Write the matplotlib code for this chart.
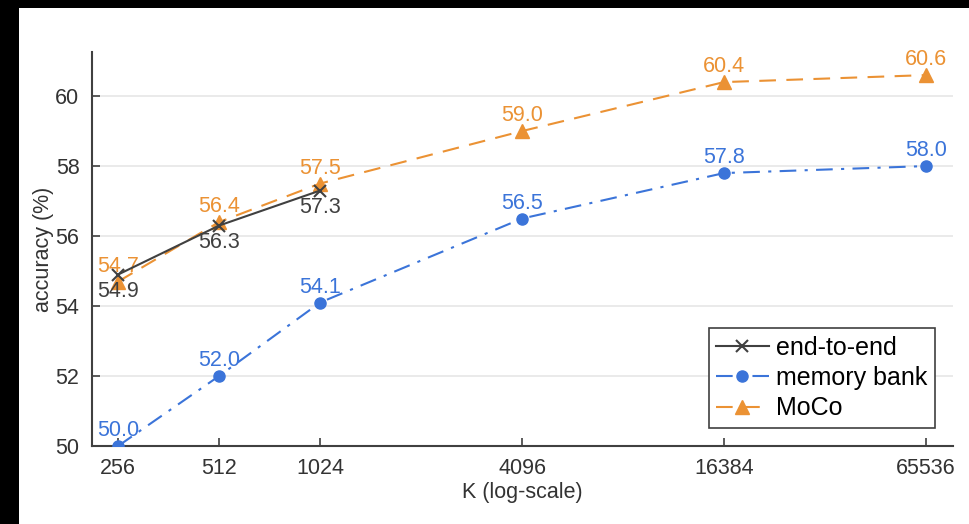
import matplotlib.pyplot as plt
from matplotlib.patches import Rectangle

plt.rcParams['font.family'] = ['Liberation Sans', 'DejaVu Sans']

K = [256, 512, 1024, 4096, 16384, 65536]
e2e_k = [256, 512, 1024]
e2e_acc = [54.9, 56.3, 57.3]
bank_acc = [50.0, 52.0, 54.1, 56.5, 57.8, 58.0]
moco_acc = [54.7, 56.4, 57.5, 59.0, 60.4, 60.6]
yticks = [50, 52, 54, 56, 58, 60]

c_e2e = '#404040'
c_bank = '#3b74d9'
c_moco = '#eb9234'
fs = 15.5

fig = plt.figure(figsize=(9.69, 5.24), dpi=100)
fig.patch.set_facecolor('black')
fig.add_artist(Rectangle((19 / 969, 0), 1, (524 - 8) / 524, transform=fig.transFigure,
                         facecolor='white', edgecolor='none', zorder=-1))
ax = fig.add_axes([92 / 969, 78 / 524, (953 - 92) / 969, (446 - 52) / 524])

ax.plot(e2e_k, e2e_acc, color=c_e2e, lw=1.5, marker='x', ms=9, mew=1.5,
        label='end-to-end', zorder=4)
ax.plot(K, bank_acc, color=c_bank, lw=1.5, ls=(0, (8, 4, 1.5, 4)), marker='o', ms=8,
        label='memory bank', zorder=3)
ax.plot(K, moco_acc, color=c_moco, lw=1.5, ls=(0, (8, 5)), marker='^', ms=10,
        label='MoCo', zorder=3)

for k, v in zip(K, moco_acc):
    ax.annotate(f'{v:.1f}', (k, v), xytext=(0, 11), textcoords='offset points',
                ha='center', va='center', color=c_moco, fontsize=fs)
for k, v in zip(K, bank_acc):
    ax.annotate(f'{v:.1f}', (k, v), xytext=(0, 11), textcoords='offset points',
                ha='center', va='center', color=c_bank, fontsize=fs)
for k, v in zip(e2e_k, e2e_acc):
    ax.annotate(f'{v:.1f}', (k, v), xytext=(0, -12.5), textcoords='offset points',
                ha='center', va='center', color=c_e2e, fontsize=fs)

ax.set_xscale('log', base=2)
ax.set_xlim(214, 78900)
ax.set_ylim(50, 61.26)
ax.set_xticks(K)
ax.set_xticklabels([str(k) for k in K])
ax.minorticks_off()
ax.set_yticks(yticks)
ax.set_yticklabels([str(y) for y in yticks])
ax.yaxis.grid(True, color='#e6e6e6', lw=1.2, zorder=0)
ax.set_axisbelow(True)

for s in ['top', 'right']:
    ax.spines[s].set_visible(False)
for s in ['left', 'bottom']:
    ax.spines[s].set_color(c_e2e)
    ax.spines[s].set_linewidth(1.5)
ax.tick_params(direction='in', length=6, width=1.2, color=c_e2e,
               labelsize=fs, labelcolor='#333333', pad=9)

ax.set_xlabel('K (log-scale)', fontsize=fs, color='#333333', labelpad=2)
ax.set_ylabel('accuracy (%)', fontsize=fs, color='#333333', labelpad=1)

leg = ax.legend(loc='lower right', bbox_to_anchor=(0.979, 0.046), borderaxespad=0,
                fontsize=18, fancybox=False, framealpha=1, edgecolor='#404040',
                handlelength=2.1, borderpad=0.3, labelspacing=0.25, handletextpad=0.3)
leg.get_frame().set_linewidth(1.2)

fig.savefig('out.png', dpi=100, facecolor=fig.get_facecolor())
